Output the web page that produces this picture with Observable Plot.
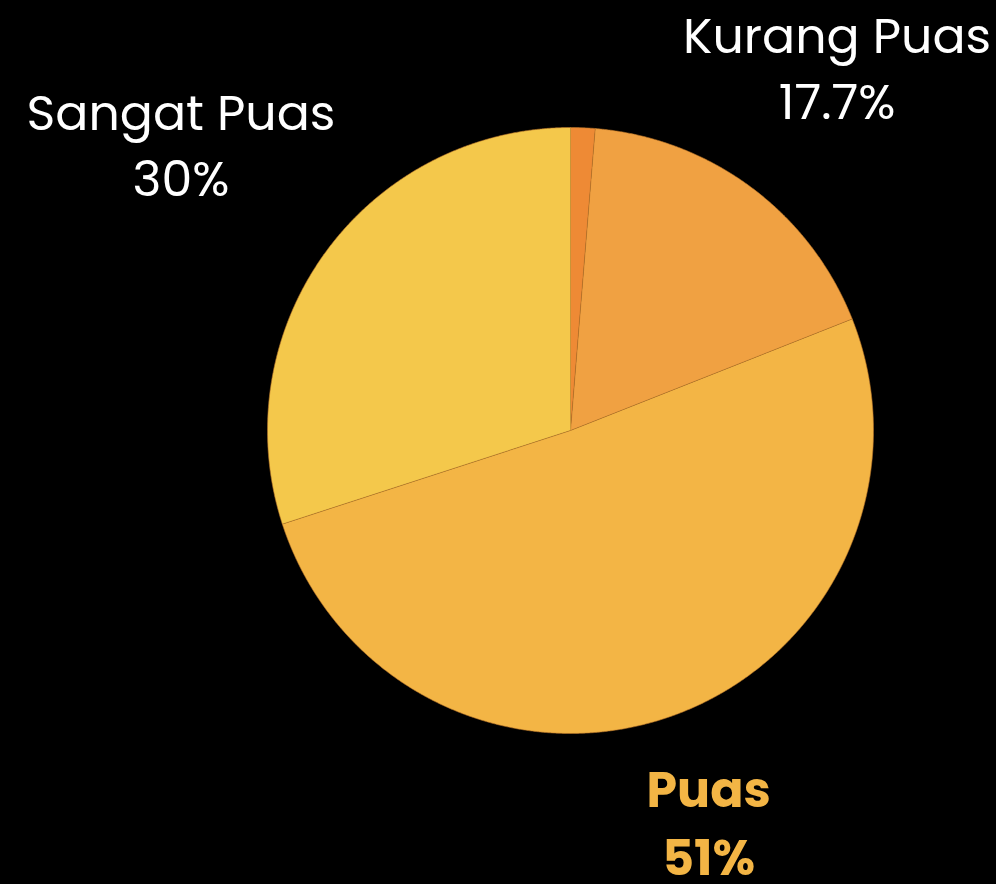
<!DOCTYPE html>
<html>
<head>
<meta charset="utf-8">
<script src="https://cdn.jsdelivr.net/npm/d3@7"></script>
<script src="https://cdn.jsdelivr.net/npm/@observablehq/plot@0.6"></script>
<style>
  html, body { margin: 0; padding: 0; background: #000; }
  #chart svg { display: block; }
</style>
</head>
<body>
<div id="chart"></div>
<script>
// ---- data ----
const categories = ["Tidak Puas", "Kurang Puas", "Puas", "Sangat Puas"];
const values = [1.3, 17.7, 51, 30];
const percentLabels = ["", "17.7%", "51%", "30%"];
const sliceColors = ["#EE8A35", "#F0A142", "#F3B545", "#F4C84B"];
const highlighted = "Puas";

// ---- layout (not data) ----
const labelRadius = {"Kurang Puas": 1.478, "Puas": 1.385, "Sangat Puas": 1.589};
const fontFamily = "Poppins, 'Open Sans', sans-serif";

const table = categories.map((c, i) => ({category: c, value: values[i], pct: percentLabels[i]}));
const arcs = d3.pie().sort(null).value(d => d.value)(table);

// polygon vertices for each slice, in unit-circle coordinates (y up, clockwise from top)
const slicePoints = [];
for (const a of arcs) {
  const n = Math.max(4, Math.ceil((a.endAngle - a.startAngle) / 0.004));
  slicePoints.push({category: a.data.category, x: 0, y: 0});
  for (let k = 0; k <= n; k++) {
    const t = a.startAngle + (a.endAngle - a.startAngle) * k / n;
    slicePoints.push({category: a.data.category, x: Math.sin(t), y: Math.cos(t)});
  }
}

const labels = arcs
  .filter(a => a.data.pct !== "")
  .map(a => {
    const m = (a.startAngle + a.endAngle) / 2;
    const r = labelRadius[a.data.category];
    return {category: a.data.category, text: a.data.category + "\n" + a.data.pct, x: r * Math.sin(m), y: r * Math.cos(m)};
  });

const chart = Plot.plot({
  width: 996,
  height: 884,
  margin: 0,
  style: {background: "#000", fontFamily},
  x: {domain: [-1, 1], range: [267, 873], axis: null},
  y: {domain: [-1, 1], range: [733, 127], axis: null},
  color: {domain: categories, range: sliceColors},
  marks: [
    Plot.line(slicePoints, {x: "x", y: "y", z: "category", fill: "category", stroke: "#B87428", strokeWidth: 0.6, curve: "linear"}),
    Plot.text(labels.filter(d => d.category !== highlighted), {
      x: "x", y: "y", text: "text", fill: "#fff", fontSize: 49, lineHeight: 1.35, fontWeight: 400, dy: -6
    }),
    Plot.text(labels.filter(d => d.category === highlighted), {
      x: "x", y: "y", text: "text", fill: "#F3B545", fontSize: 49, lineHeight: 1.39, fontWeight: 700, dy: -6, dx: -4
    })
  ]
});
document.getElementById("chart").append(chart);
</script>
</body>
</html>
